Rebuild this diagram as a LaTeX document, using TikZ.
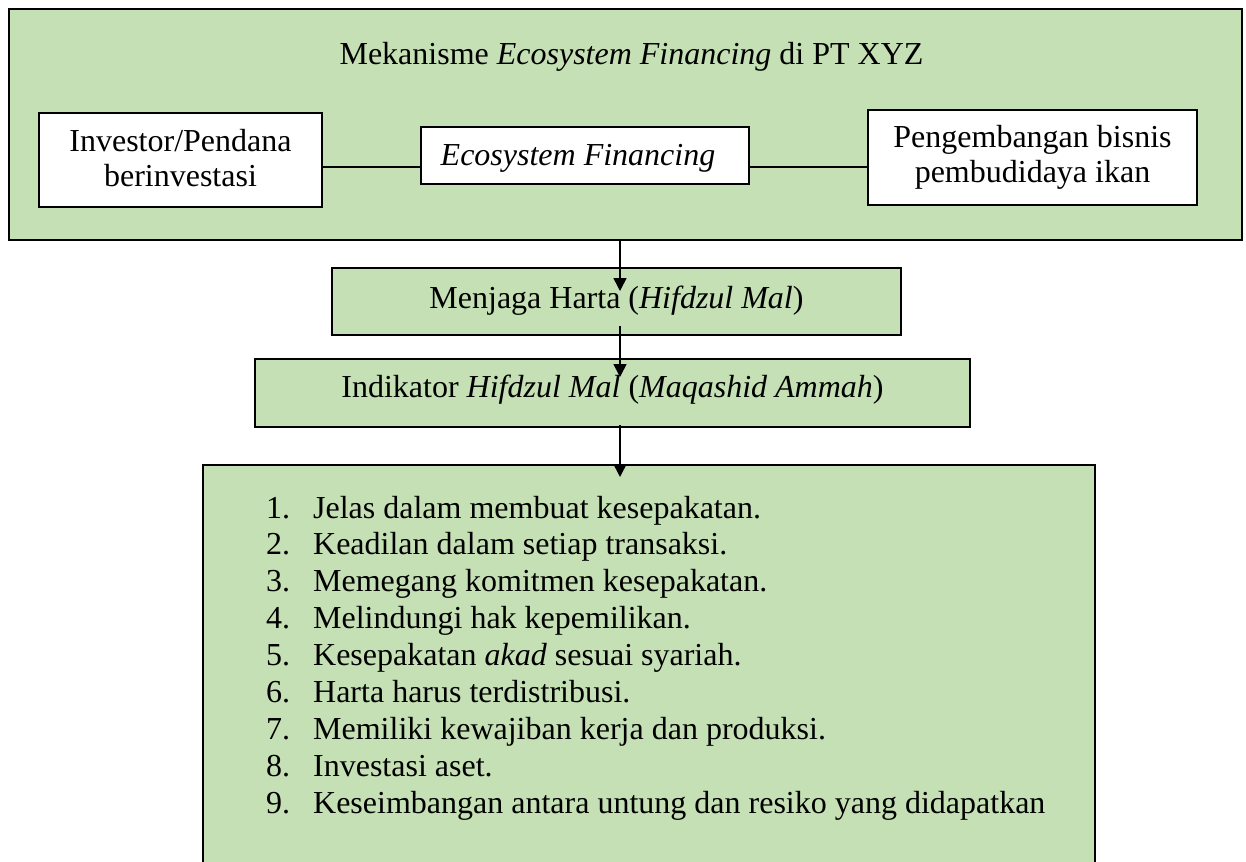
\documentclass[tikz,border=0pt]{standalone}
\usepackage{fontspec}
\setmainfont{Liberation Serif}
\usetikzlibrary{arrows.meta,calc}
\definecolor{boxgreen}{HTML}{C5E0B4}
\begin{document}
\begin{tikzpicture}[x=1pt,y=-1pt,
  box/.style={draw=black,line width=2pt,rectangle,inner sep=0pt,anchor=center},
  gbox/.style={box,fill=boxgreen},
  wbox/.style={box,fill=white},
  bigfont/.style={font=\fontsize{32}{35}\selectfont},
  arr/.style={line width=1.6pt,-{Triangle[length=13pt,width=13pt]}},
  conn/.style={line width=1.6pt}]
\useasboundingbox (0,0) rectangle (1246,861);
\clip (0,0) rectangle (1246,861);
% outer container
\node[gbox,minimum width=1233pt,minimum height=231pt] (top) at (625.5,124.5) {};
\node[bigfont,anchor=base,inner sep=0pt] (title) at (631.5,65) {Mekanisme \textit{Ecosystem Financing} di PT XYZ};
% inner boxes
\node[wbox,bigfont,minimum width=283pt,minimum height=94pt,text height=25pt,text depth=41pt] (inv) at (180.5,160)
  {\begin{tabular}[t]{@{}c@{}}Investor/Pendana\\berinvestasi\end{tabular}};
\node[wbox,bigfont,minimum width=328pt,minimum height=57pt,text height=25pt,text depth=6pt] (eco) at (585,155.5)
  {\textit{Ecosystem Financing}\hspace*{14pt}};
\node[wbox,bigfont,minimum width=329pt,minimum height=95pt,text height=25pt,text depth=44pt] (peng) at (1032.5,157.5)
  {\begin{tabular}[t]{@{}c@{}}Pengembangan bisnis\\pembudidaya ikan\end{tabular}};
% middle boxes
\node[gbox,bigfont,minimum width=569pt,minimum height=67pt,text height=22pt,text depth=9pt] (mj) at (616.5,301.5)
  {Menjaga Harta (\textit{Hifdzul Mal})};
\node[gbox,bigfont,minimum width=715pt,minimum height=68pt,text height=20pt,text depth=12pt] (ind) at (612.5,393)
  {Indikator \textit{Hifdzul Mal} (\textit{Maqashid Ammah})};
% bottom box
\node[gbox,minimum width=892pt,minimum height=435pt] (bot) at (649,682.5) {};
\node[anchor=base west,inner sep=0pt,font=\fontsize{32}{36.9}\selectfont] (list) at (266,518)
  {\begin{tabular}[t]{@{}p{47pt}@{}l@{}}
  1. & Jelas dalam membuat kesepakatan.\\
  2. & Keadilan dalam setiap transaksi.\\
  3. & Memegang komitmen kesepakatan.\\
  4. & Melindungi hak kepemilikan.\\
  5. & Kesepakatan \textit{akad} sesuai syariah.\\
  6. & Harta harus terdistribusi.\\
  7. & Memiliki kewajiban kerja dan produksi.\\
  8. & Investasi aset.\\
  9. & Keseimbangan antara untung dan resiko yang didapatkan
  \end{tabular}};
% connectors
\coordinate (ax) at (620,0);
\coordinate (ln) at (0,167);
\draw[conn] (inv.east |- ln) -- (eco.west |- ln);
\draw[conn] (eco.east |- ln) -- (peng.west |- ln);
\draw[arr] (top.south -| ax) -- ($(mj.north -| ax)+(0,24)$);
\draw[arr] ($(mj.south -| ax)+(0,-10)$) -- ($(ind.north -| ax)+(0,19)$);
\draw[arr] ($(ind.south -| ax)+(0,-3)$) -- ($(bot.north -| ax)+(0,13)$);
\end{tikzpicture}
\end{document}
